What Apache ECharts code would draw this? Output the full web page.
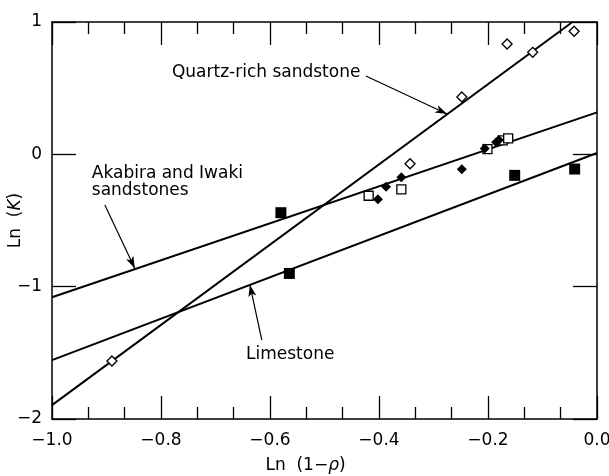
<!DOCTYPE html>
<html><head><meta charset="utf-8">
<script src="https://cdn.jsdelivr.net/npm/echarts@6/dist/echarts.min.js"></script>
<style>html,body{margin:0;padding:0;background:#fff}#c{width:609px;height:476px}</style>
</head><body><div id="c"></div>
<script>
// ---- data ----
const xTickValues = [-1.0, -0.8, -0.6, -0.4, -0.2, 0.0];
const yTickValues = [1, 0, -1, -2];
const openDiamonds = [[-0.890,-1.562],[-0.343,-0.071],[-0.248,0.433],[-0.165,0.834],[-0.118,0.771],[-0.042,0.930]];
const filledDiamonds = [[-0.402,-0.340],[-0.387,-0.245],[-0.359,-0.174],[-0.248,-0.113],[-0.206,0.045],[-0.185,0.091],[-0.180,0.108]];
const openSquares = [[-0.419,-0.313],[-0.359,-0.265],[-0.201,0.040],[-0.173,0.106],[-0.163,0.121]];
const filledSquares = [[-0.580,-0.441],[-0.5645,-0.900],[-0.151,-0.159],[-0.041,-0.111]];
const quartzLine = [[-1.0,-1.895],[-0.045,1.0]];
const akabiraLine = [[-1.0,-1.08],[0.0,0.317]];
const limestoneLine = [[-1.0,-1.555],[0.0,0.01]];
const labelQuartz = 'Quartz-rich sandstone';
const labelAkabira = ['Akabira and Iwaki', 'sandstones'];
const labelLimestone = 'Limestone';
// annotation anchors (data coords)
const quartzText = [-0.780, 0.618];
const akabiraText1 = [-0.927, -0.149];
const akabiraText2 = [-0.927, -0.274];
const limestoneText = [-0.644, -1.51];
const arrows = [
  [[-0.424, 0.592], [-0.275, 0.305]],
  [[-0.903, -0.383], [-0.848, -0.862]],
  [[-0.615, -1.404], [-0.637, -0.985]]
];

const FONT = 'DejaVu Sans';
const fmt = v => {
  const s = Math.abs(v) < 1e-9 ? '0' : String(v);
  return s.replace('-', '\u2212');
};
const fmtX = v => {
  const s = Math.abs(v) < 1e-9 ? '0.0' : v.toFixed(1);
  return s.replace('-', '\u2212');
};

const chart = echarts.init(document.getElementById('c'), null, {renderer: 'canvas'});
const axisLine = {show: true, onZero: false, lineStyle: {color: '#000', width: 1.5}};
const xBase = {
  type: 'value', min: -1, max: 0, interval: 0.2,
  axisLine: axisLine,
  axisTick: {show: true, inside: true, length: 23, lineStyle: {color: '#000', width: 1.3}},
  minorTick: {show: true, splitNumber: 3, length: 12, lineStyle: {color: '#000', width: 1.3}},
  splitLine: {show: false}, minorSplitLine: {show: false}
};
const yBase = {
  type: 'value', min: -2, max: 1, interval: 1,
  axisLine: axisLine,
  axisTick: {show: true, inside: true, length: 24, lineStyle: {color: '#000', width: 1.3}},
  splitLine: {show: false}
};
const lineSeries = (name, data, extra) => Object.assign({
  name, type: 'line', data, showSymbol: false, symbol: 'none',
  lineStyle: {color: '#000', width: 2}, silent: true, z: 2, animation: false
}, extra || {});

chart.setOption({
  animation: false,
  backgroundColor: '#fff',
  grid: {left: 52, right: 12, top: 22, bottom: 57, containLabel: false, outerBoundsMode: 'none'},
  xAxis: [
    Object.assign({}, xBase, {
      position: 'bottom',
      axisLabel: {color: '#000', fontFamily: FONT, fontSize: 17, margin: 13, formatter: fmtX, showMaxLabel: true, showMinLabel: true},
      name: 'Ln  (1\u2212{i|\u03c1})', nameLocation: 'middle', nameGap: 38, nameMoveOverlap: false,
      nameTextStyle: {color: '#000', fontFamily: FONT, fontSize: 17, padding: [0, 38, 0, 0],
        rich: {i: {fontStyle: 'italic', fontFamily: FONT, fontSize: 17, color: '#000'}}}
    }),
    Object.assign({}, xBase, {position: 'top', axisLabel: {show: false}})
  ],
  yAxis: [
    Object.assign({}, yBase, {
      position: 'left',
      axisLabel: {color: '#000', fontFamily: FONT, fontSize: 17, margin: 10, formatter: fmt},
      name: 'Ln  ({i|K})', nameLocation: 'middle', nameGap: 28, nameMoveOverlap: false,
      nameTextStyle: {color: '#000', fontFamily: FONT, fontSize: 17,
        rich: {i: {fontStyle: 'italic', fontFamily: FONT, fontSize: 17, color: '#000'}}}
    }),
    Object.assign({}, yBase, {position: 'right', axisLabel: {show: false}})
  ],
  series: [
    lineSeries('Quartz line', quartzLine, {
      markLine: {
        silent: true, animation: false,
        symbol: ['none', 'arrow'], symbolSize: [6, 12],
        label: {show: false},
        lineStyle: {color: '#000', width: 1.2, type: 'solid'},
        data: arrows.map(a => [{coord: a[0]}, {coord: a[1]}])
      }
    }),
    lineSeries('Akabira line', akabiraLine),
    lineSeries('Limestone line', limestoneLine),
    {type: 'scatter', data: openSquares, symbol: 'rect', symbolSize: 9, z: 3,
     itemStyle: {color: '#fff', borderColor: '#000', borderWidth: 1.3, opacity: 1}, silent: true},
    {type: 'scatter', data: openDiamonds, symbol: 'diamond', symbolSize: 10, z: 3,
     itemStyle: {color: '#fff', borderColor: '#000', borderWidth: 1.3, opacity: 1}, silent: true},
    {type: 'scatter', data: filledDiamonds, symbol: 'diamond', symbolSize: 10, z: 4,
     itemStyle: {color: '#000', opacity: 1}, silent: true},
    {type: 'scatter', data: filledSquares, symbol: 'rect', symbolSize: 11, z: 4,
     itemStyle: {color: '#000', opacity: 1}, silent: true}
  ]
});

const px = p => chart.convertToPixel({gridIndex: 0}, p);
const txt = (p, s) => {
  const q = px(p);
  return {type: 'text', x: q[0], y: q[1], z: 10,
    style: {text: s, fill: '#000', font: '17px "' + FONT + '"', textAlign: 'left', textVerticalAlign: 'middle'}};
};
chart.setOption({graphic: [
  txt(quartzText, labelQuartz),
  txt(akabiraText1, labelAkabira[0]),
  txt(akabiraText2, labelAkabira[1]),
  txt(limestoneText, labelLimestone)
]});
</script></body></html>
